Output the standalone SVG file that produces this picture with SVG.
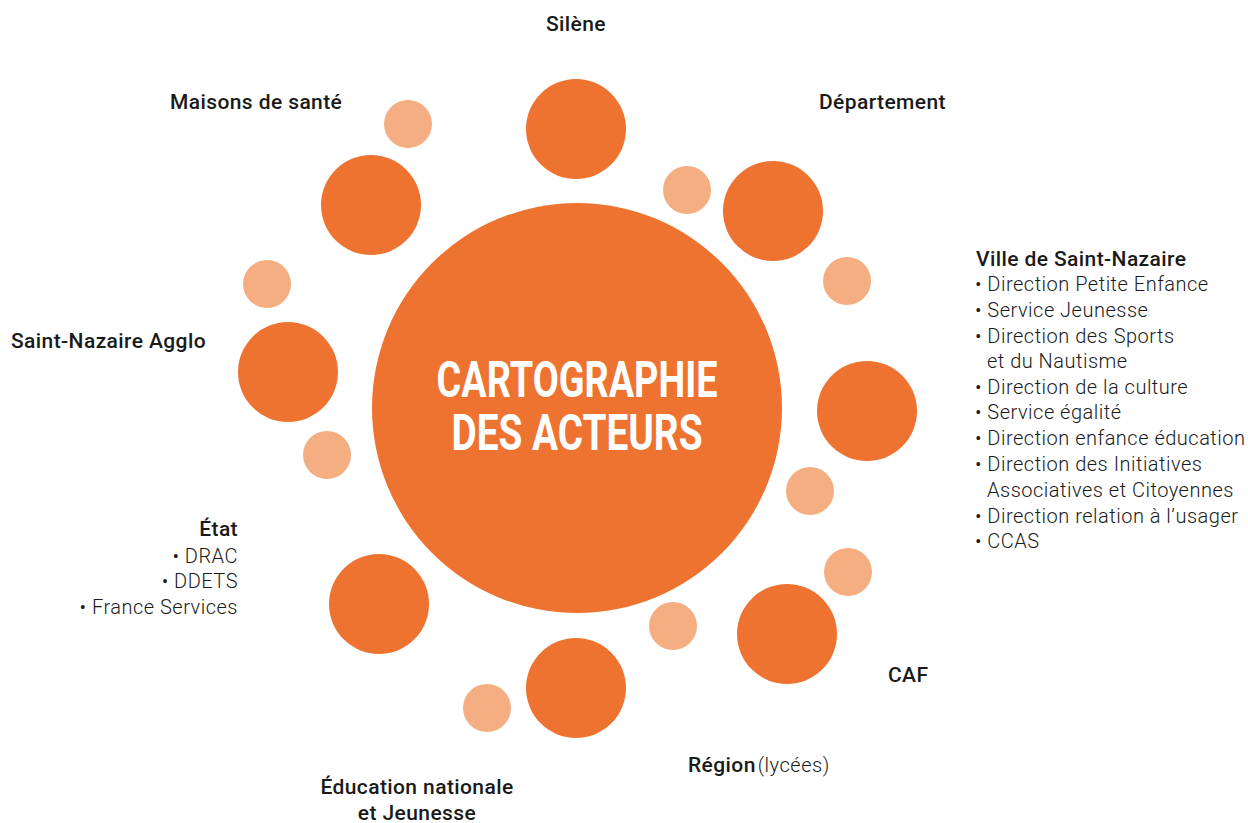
<svg xmlns="http://www.w3.org/2000/svg" width="1248" height="823" viewBox="0 0 1248 823">
<style>
.big{fill:#EE7330}
.small{fill:#F5AE82}
.h{font-family:Roboto,"Liberation Sans",sans-serif;font-size:21px;font-weight:500;letter-spacing:0.4px;fill:#1a1a1a}
.li{font-family:Roboto,"Liberation Sans",sans-serif;font-size:20px;font-weight:300;letter-spacing:0.5px;fill:#1a1a1a}
.title{font-family:Roboto,"Liberation Sans",sans-serif;font-size:50px;font-weight:700;fill:#fff}
</style>
<rect width="1248" height="823" fill="#fff"/>
<g id="center">
<circle class="big" cx="577" cy="408" r="205"/>
<text class="title" x="577" y="397" text-anchor="middle" textLength="281" lengthAdjust="spacingAndGlyphs">CARTOGRAPHIE</text>
<text class="title" x="577" y="450" text-anchor="middle" textLength="251" lengthAdjust="spacingAndGlyphs">DES ACTEURS</text>
</g>
<g id="connectors"></g>
<g id="small-circles">
<circle class="small" cx="408" cy="124" r="24"/>
<circle class="small" cx="687" cy="190" r="24"/>
<circle class="small" cx="847" cy="281" r="24"/>
<circle class="small" cx="810" cy="491" r="24"/>
<circle class="small" cx="848" cy="572" r="24"/>
<circle class="small" cx="673" cy="626" r="24"/>
<circle class="small" cx="487" cy="708" r="24"/>
<circle class="small" cx="327" cy="455" r="24"/>
<circle class="small" cx="267" cy="284" r="24"/>
</g>
<g id="silene">
<circle class="big" cx="576" cy="129" r="50"/>
<text class="h" x="576" y="31" text-anchor="middle">Silène</text>
</g>
<g id="departement">
<circle class="big" cx="773" cy="211" r="50"/>
<text class="h" x="819" y="109">Département</text>
</g>
<g id="ville">
<circle class="big" cx="867" cy="411" r="50"/>
<text class="h" x="976" y="266">Ville de Saint-Nazaire</text>
<text class="li" x="975" y="291">• Direction Petite Enfance</text>
<text class="li" x="975" y="317">• Service Jeunesse</text>
<text class="li" x="975" y="343">• Direction des Sports</text>
<text class="li" x="987" y="368">et du Nautisme</text>
<text class="li" x="975" y="394">• Direction de la culture</text>
<text class="li" x="975" y="419">• Service égalité</text>
<text class="li" x="975" y="445">• Direction enfance éducation</text>
<text class="li" x="975" y="471">• Direction des Initiatives</text>
<text class="li" x="987" y="497">Associatives et Citoyennes</text>
<text class="li" x="975" y="523">• Direction relation à l’usager</text>
<text class="li" x="975" y="548">• CCAS</text>
</g>
<g id="caf">
<circle class="big" cx="787" cy="634" r="50"/>
<text class="h" x="888" y="682">CAF</text>
</g>
<g id="region">
<circle class="big" cx="576" cy="688" r="50"/>
<text x="688" y="772"><tspan class="h">Région</tspan><tspan class="li" dx="2">(lycées)</tspan></text>
</g>
<g id="education">
<circle class="big" cx="379" cy="604" r="50"/>
<text class="h" x="417" y="794" text-anchor="middle">Éducation nationale</text>
<text class="h" x="417" y="820" text-anchor="middle">et Jeunesse</text>
</g>
<g id="etat">
<text class="h" x="238" y="536" text-anchor="end">État</text>
<text class="li" x="238" y="563" text-anchor="end">• DRAC</text>
<text class="li" x="238" y="588" text-anchor="end">• DDETS</text>
<text class="li" x="238" y="614" text-anchor="end">• France Services</text>
</g>
<g id="agglo">
<circle class="big" cx="288" cy="372" r="50"/>
<text class="h" x="11" y="348">Saint-Nazaire Agglo</text>
</g>
<g id="maisons">
<circle class="big" cx="371" cy="205" r="50"/>
<text class="h" x="170" y="109">Maisons de santé</text>
</g>
</svg>
